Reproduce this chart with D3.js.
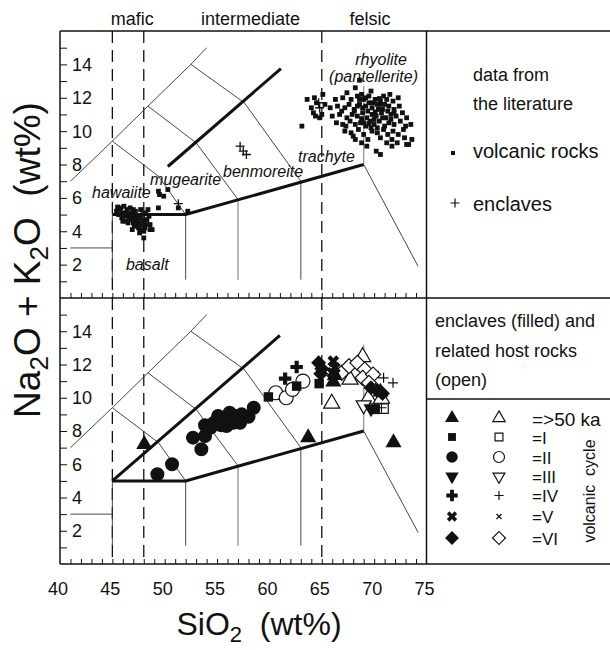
<!DOCTYPE html>
<html>
<head>
<meta charset="utf-8">
<script src="https://cdn.jsdelivr.net/npm/d3@7"></script>
<style>
  body { margin: 0; background: #fff; }
  svg { display: block; font-family: "Liberation Sans", Arial, Helvetica, sans-serif; }
</style>
</head>
<body>
<svg id="chart" width="610" height="650"></svg>
<script>
// ---------------- data ----------------
const siO2Ticks = [40, 45, 50, 55, 60, 65, 70, 75];
const alkaliTicks = [2, 4, 6, 8, 10, 12, 14];
const compositionNames = ["mafic", "intermediate", "felsic"];
const compositionDividers = [45, 48, 65];

// TAS field boundaries, [SiO2, Na2O+K2O]
const tasThin = [
  [[41, 7], [45, 9.4], [48.4, 11.5], [52.5, 14], [54, 15]],
  [[45, 9.4], [49.4, 7.3], [52, 5]],
  [[48.4, 11.5], [53, 9.3], [57, 5.9]],
  [[52.5, 14], [57.6, 11.7], [63, 7]],
  [[41, 3], [45, 3]],
  [[45, 5], [45, 1.1]],
  [[52, 5], [52, 1.1]],
  [[63, 7], [63, 1.1]],
  [[69, 8], [74.2, 1.9]]
];
const tasGrayTop = [[[57, 5.9], [57, 1.1]], [[69, 8], [69, 12.7]]];
const tasGrayBottom = [[[57, 5.9], [57, 1.1]], [[69, 8], [69, 13.2]]];
const subalkalineLimit = [[45, 5], [52, 5], [69, 8]];
const alkalineDivideTop = [[50.3, 7.88], [61.1, 13.75]];
const alkalineDivideBottom = [[45, 5], [61, 13.75]];

const fieldNames = ["hawaiite", "mugearite", "benmoreite", "trachyte", "basalt", "rhyolite", "(pantellerite)"];
const fieldAnchors = [[43.06, 6.0], [48.6, 6.77], [55.57, 7.25], [62.73, 8.17], [46.3, 1.68], [68.2, 13.98], [65.7, 12.96]];

// literature data: volcanic rocks
const litVolcanic = [
  // basalt / hawaiite
  [45.4, 5.2], [45.6, 5.0], [45.8, 5.4], [46.0, 5.1], [46.2, 4.9], [45.9, 4.8], [46.4, 5.3], [46.6, 5.0],
  [46.8, 4.7], [46.5, 4.5], [47.0, 4.9], [47.2, 5.2], [47.4, 4.6], [47.1, 4.3], [47.6, 4.8], [47.8, 4.4],
  [47.9, 5.0], [48.1, 4.2], [48.3, 4.7], [48.0, 4.0], [47.5, 4.2], [46.9, 4.1], [46.3, 4.6], [48.5, 4.9],
  [48.6, 4.4], [48.8, 4.1], [47.7, 5.3], [48.2, 5.1], [46.1, 5.5], [45.7, 5.3], [47.3, 4.9], [46.7, 5.4],
  [48.4, 5.3], [47.6, 3.9], [48.0, 3.6], [46.0, 4.6], [47.0, 4.5], [48.6, 4.1],
  [46.6, 4.8], [47.2, 4.7], [47.5, 4.5], [47.9, 4.7], [47.3, 4.4], [46.8, 5.1], [47.7, 4.1], [48.3, 4.4],
  [45.5, 5.45], [46.3, 5.1], [47.0, 5.3], [48.0, 4.45],
  // mugearite
  [49.4, 6.4], [49.5, 6.2], [50.3, 6.5], [49.9, 6.1], [51.3, 5.4], [52.2, 5.2], [49.4, 5.4],
  // trachyte / rhyolite
  [63.1, 10.3], [63.6, 11.9], [64.0, 11.4], [64.2, 11.1], [64.4, 10.9], [64.5, 11.7], [65.1, 12.2],
  [65.3, 11.6], [64.8, 10.8], [65.0, 11.0], [64.3, 12.0],
  [68.6, 13.05], [67.4, 12.3], [69.7, 12.4], [70.9, 12.1], [71.5, 12.2], [68.2, 12.6],
  [66.3, 11.9], [67.0, 12.0], [67.8, 11.9], [68.4, 12.1], [69.0, 11.9], [69.5, 12.1], [70.1, 11.9],
  [70.6, 11.8], [71.2, 11.9], [71.8, 11.8], [72.3, 12.0], [68.8, 12.2],
  [65.8, 11.4], [66.5, 11.5], [67.2, 11.4], [67.6, 11.6], [68.1, 11.3], [68.6, 11.6], [69.2, 11.5],
  [69.8, 11.4], [70.3, 11.6], [70.8, 11.3], [71.4, 11.5], [71.9, 11.3], [72.4, 11.5], [66.9, 11.2],
  [69.5, 11.7], [70.6, 11.6],
  [66.0, 10.9], [66.7, 11.0], [67.4, 10.8], [67.9, 11.0], [68.4, 10.9], [68.9, 11.1], [69.3, 10.8],
  [69.8, 11.0], [70.2, 10.9], [70.7, 11.1], [71.1, 10.8], [71.6, 11.0], [72.1, 10.9], [72.7, 11.1],
  [73.1, 10.8], [68.1, 11.2],
  [66.4, 10.5], [67.0, 10.4], [67.7, 10.6], [68.2, 10.4], [68.7, 10.5], [69.2, 10.3], [69.6, 10.6],
  [70.0, 10.4], [70.5, 10.6], [71.0, 10.3], [71.4, 10.5], [71.9, 10.4], [72.5, 10.6], [73.0, 10.3],
  [73.5, 10.4], [67.3, 10.3],
  [67.2, 10.0], [67.8, 9.9], [68.5, 10.1], [69.0, 9.8], [69.8, 10.0], [70.3, 9.9], [70.9, 10.1],
  [71.3, 9.8], [71.8, 10.0], [72.3, 9.8], [72.8, 10.1], [68.0, 9.7],
  [68.2, 9.5], [68.8, 9.3], [69.4, 9.5], [70.6, 9.6], [71.2, 9.3], [71.7, 9.5], [72.2, 9.3],
  [72.9, 9.6], [73.3, 9.2], [73.6, 9.5],
  [69.3, 9.1], [70.2, 8.8], [70.6, 8.6], [71.7, 9.1], [73.1, 9.2],
  // dense core of the rhyolite group
  [68.9, 11.4], [69.4, 11.2], [69.9, 11.7], [70.4, 11.3], [70.0, 10.7], [69.5, 10.45], [68.8, 10.75],
  [70.8, 10.8], [71.3, 11.2], [70.5, 11.95], [69.2, 12.0], [71.6, 10.7], [70.3, 10.2], [68.6, 11.9],
  [71.0, 11.6], [69.7, 10.2], [68.4, 11.5], [71.9, 11.1], [70.1, 11.15], [69.0, 10.5]
];
// literature data: enclaves
const litEnclaves = [[57.2, 9.1], [57.5, 8.8], [57.8, 8.6], [51.3, 5.65], [64.7, 11.7], [64.8, 11.4]];

// enclaves (filled) and host rocks (open) by volcanic cycle
const cycleLabels = ["=>50 ka", "=I", "=II", "=III", "=IV", "=V", "=VI"];
const cycleShapes = ["triangle", "square", "circle", "triangleDown", "plus", "cross", "diamond"];
const enclaves = [
  [[48.05, 7.2], [63.7, 7.6], [66.1, 10.95], [66.25, 11.35], [71.85, 7.3], [70.6, 10.35]],
  [[59.9, 10.05], [62.6, 10.7], [64.75, 10.85], [70.1, 9.3]],
  [[49.3, 5.4], [50.7, 6.0], [52.7, 7.6], [53.5, 6.9], [53.85, 7.7], [53.85, 8.35], [54.7, 8.5],
   [55.1, 8.9], [55.4, 8.35], [55.9, 8.3], [56.2, 9.1], [56.55, 8.5], [57.2, 8.5], [57.35, 9.0],
   [58.0, 8.85], [58.5, 9.4], [54.4, 8.2], [56.8, 8.9], [55.6, 8.7]],
  [[69.7, 9.35]],
  [[61.5, 11.15], [62.6, 11.85]],
  [[66.1, 12.2], [66.25, 11.8], [66.0, 11.5]],
  [[64.7, 12.1], [65.0, 11.75], [64.9, 11.45], [69.7, 10.6], [70.3, 10.45], [70.8, 10.25]]
];
const hostRocks = [
  [[65.95, 9.65], [68.9, 12.45], [67.7, 11.1], [69.45, 9.95], [70.7, 9.95]],
  [[70.5, 9.35], [70.9, 9.35]],
  [[60.6, 10.3], [61.6, 10.0], [62.2, 10.5], [63.2, 11.0]],
  [[69.0, 9.55]],
  [[70.9, 11.2], [71.8, 10.9], [70.7, 9.4]],
  [[70.1, 11.4]],
  [[66.9, 11.5], [67.6, 11.9], [68.4, 12.1], [69.1, 11.7], [68.9, 11.2], [69.9, 11.4], [69.5, 10.9]]
];

// ---------------- layout ----------------
const svg = d3.select("#chart");
const plotL = 60, plotR = 426.5, rightEdge = 610;
const topY0 = 31, midY = 298, botY = 564;
const x = d3.scaleLinear().domain([40, 75]).range([plotL, plotR]);
const yTop = d3.scaleLinear().domain([0, 16]).range([midY, topY0]);
const yBot = d3.scaleLinear().domain([0, 16]).range([botY, midY]);

function lineFor(y) { return d3.line().x(d => x(d[0])).y(d => y(d[1])); }

function drawPanel(g, y, grayLines, divide) {
  const ln = lineFor(y);
  // composition dividers
  g.selectAll(".div").data(compositionDividers).join("line")
    .attr("x1", d => x(d)).attr("x2", d => x(d))
    .attr("y1", y.range()[1]).attr("y2", y.range()[0])
    .attr("stroke", "#111").attr("stroke-width", 1.3).attr("stroke-dasharray", "12,7");
  g.selectAll(".thin").data(tasThin).join("path")
    .attr("d", ln).attr("fill", "none").attr("stroke", "#333").attr("stroke-width", 0.9);
  g.selectAll(".gray").data(grayLines).join("path").attr("class", "gray")
    .attr("d", ln).attr("fill", "none").attr("stroke", "#9a9a9a").attr("stroke-width", 1.4);
  g.append("path").attr("d", ln(subalkalineLimit)).attr("fill", "none")
    .attr("stroke", "#111").attr("stroke-width", 3);
  g.append("path").attr("d", ln(divide)).attr("fill", "none")
    .attr("stroke", "#111").attr("stroke-width", 3);

  // axes: ticks pointing into the plot, labels inside
  const yAxis = d3.axisRight(y).tickValues(d3.range(1, 16)).tickSize(7).tickFormat("");
  const ya = g.append("g").attr("transform", `translate(${plotL},0)`).call(yAxis);
  ya.select(".domain").remove();
  ya.selectAll("line").attr("stroke", "#111").attr("stroke-width", 1);
  g.selectAll(".ylab").data(alkaliTicks).join("text")
    .attr("x", plotL + 12).attr("y", d => y(d)).attr("dy", "0.36em")
    .attr("font-size", 18).attr("fill", "#111").text(d => d);

  const xAxis = d3.axisTop(x).tickValues(d3.range(41, 75)).tickSize(5).tickFormat("");
  const xa = g.append("g").attr("transform", `translate(0,${y.range()[0]})`).call(xAxis);
  xa.select(".domain").remove();
  xa.selectAll("line").attr("stroke", "#111").attr("stroke-width", 1);
}

const gTop = svg.append("g");
drawPanel(gTop, yTop, tasGrayTop, alkalineDivideTop);
const gBot = svg.append("g");
drawPanel(gBot, yBot, tasGrayBottom, alkalineDivideBottom);

// field names (italic)
gTop.selectAll(".field").data(fieldNames).join("text")
  .attr("x", (d, i) => x(fieldAnchors[i][0]))
  .attr("y", (d, i) => yTop(fieldAnchors[i][1]))
  .attr("font-size", 16).attr("font-style", "italic").attr("fill", "#111")
  .text(d => d);

// literature points
gTop.selectAll(".lit").data(litVolcanic).join("rect")
  .attr("x", d => x(d[0]) - 2.4).attr("y", d => yTop(d[1]) - 2.4)
  .attr("width", 4.8).attr("height", 4.8).attr("fill", "#111");
const plusPath = s => `M${-s},0H${s}M0,${-s}V${s}`;
gTop.selectAll(".litEnc").data(litEnclaves).join("path")
  .attr("transform", d => `translate(${x(d[0])},${yTop(d[1])})`)
  .attr("d", plusPath(4.5)).attr("stroke", "#111").attr("stroke-width", 1.3).attr("fill", "none");

// symbol helpers
function shapePath(kind, s) {
  switch (kind) {
    case "triangle": return d3.symbol(d3.symbolTriangle, s * s * 0.5)();
    case "triangleDown": return d3.symbol(d3.symbolTriangle, s * s * 0.5)();
    case "square": return d3.symbol(d3.symbolSquare, s * s * 0.62)();
    case "circle": return d3.symbol(d3.symbolCircle, s * s * 0.785)();
    case "diamond": return d3.symbol(d3.symbolSquare, s * s * 0.5)();
    case "plus": return d3.symbol(d3.symbolCross, s * s * 0.6)();
    case "cross": return d3.symbol(d3.symbolCross, s * s * 0.6)();
  }
}
function shapeRotation(kind) {
  return kind === "triangleDown" ? 180 : (kind === "diamond" || kind === "cross") ? 45 : 0;
}
function drawSymbols(g, pts, kind, filled, size, px, py) {
  const sel = g.selectAll(null).data(pts).join("path")
    .attr("transform", d => `translate(${px(d)},${py(d)}) rotate(${shapeRotation(kind)})`);
  if (!filled && (kind === "plus" || kind === "cross")) {
    sel.attr("d", plusPath(size * 0.42)).attr("fill", "none").attr("stroke", "#111").attr("stroke-width", 1.2);
  } else if (filled) {
    sel.attr("d", shapePath(kind, size)).attr("fill", "#111").attr("stroke", "none");
  } else {
    sel.attr("d", shapePath(kind, size)).attr("fill", "#fff").attr("stroke", "#111").attr("stroke-width", 1.2);
  }
}
const dataSize = { triangle: 15, square: 12, circle: 14, triangleDown: 14, plus: 12, cross: 12, diamond: 15 };
const px = d => x(d[0]), pyB = d => yBot(d[1]);
// host rocks first, enclaves on top
cycleShapes.forEach((k, i) => drawSymbols(gBot, hostRocks[i], k, false, dataSize[k], px, pyB));
cycleShapes.forEach((k, i) => drawSymbols(gBot, enclaves[i], k, true, dataSize[k], px, pyB));

// frame
const frame = svg.append("g").attr("stroke", "#111").attr("stroke-width", 1.5).attr("fill", "none");
frame.append("line").attr("x1", plotL).attr("x2", rightEdge).attr("y1", topY0).attr("y2", topY0);
frame.append("line").attr("x1", plotL).attr("x2", rightEdge).attr("y1", midY).attr("y2", midY);
frame.append("line").attr("x1", plotL).attr("x2", rightEdge).attr("y1", botY).attr("y2", botY);
frame.append("line").attr("x1", plotL).attr("x2", plotL).attr("y1", topY0).attr("y2", botY);
frame.append("line").attr("x1", plotR).attr("x2", plotR).attr("y1", topY0).attr("y2", botY);
frame.append("line").attr("x1", plotR).attr("x2", rightEdge).attr("y1", 399).attr("y2", 399);

// composition names above the frame
const compCenters = [46.9, 58.2, 69.6];
svg.selectAll(".comp").data(compositionNames).join("text")
  .attr("x", (d, i) => x(compCenters[i])).attr("y", 25)
  .attr("text-anchor", "middle").attr("font-size", 18).attr("fill", "#111").text(d => d);

// x tick labels and title
svg.selectAll(".xlab").data(siO2Ticks).join("text")
  .attr("x", d => x(d) - 2).attr("y", 595).attr("text-anchor", "middle")
  .attr("font-size", 18).attr("fill", "#111").text(d => d);
const xt = svg.append("text").attr("x", 259).attr("y", 635).attr("text-anchor", "middle")
  .attr("font-size", 32).attr("fill", "#111");
xt.append("tspan").text("SiO");
xt.append("tspan").attr("font-size", 22).attr("dy", 7).text("2");
xt.append("tspan").attr("dy", -7).text("\u00a0\u00a0(wt%)");

// y title
const yt = svg.append("text").attr("transform", "translate(40,260) rotate(-90)")
  .attr("text-anchor", "middle").attr("font-size", 37).attr("fill", "#111");
yt.append("tspan").text("Na");
yt.append("tspan").attr("font-size", 26).attr("dy", 8).text("2");
yt.append("tspan").attr("dy", -8).text("O + K");
yt.append("tspan").attr("font-size", 26).attr("dy", 8).text("2");
yt.append("tspan").attr("dy", -8).text("O\u00a0\u00a0(wt%)");

// legend, top right
const legTop = svg.append("g").attr("fill", "#111");
legTop.append("text").attr("x", 473).attr("y", 81).attr("font-size", 18).text("data from");
legTop.append("text").attr("x", 473).attr("y", 110).attr("font-size", 18).text("the literature");
legTop.append("rect").attr("x", 451).attr("y", 151).attr("width", 4).attr("height", 4);
legTop.append("text").attr("x", 473).attr("y", 158).attr("font-size", 20).text("volcanic rocks");
legTop.append("path").attr("transform", "translate(455,203)").attr("d", plusPath(4.5))
  .attr("stroke", "#111").attr("stroke-width", 1.2).attr("fill", "none");
legTop.append("text").attr("x", 473).attr("y", 211).attr("font-size", 20).text("enclaves");

// legend, bottom right
const legBot = svg.append("g").attr("fill", "#111");
["enclaves (filled) and", "related host rocks", "(open)"].forEach((t, i) =>
  legBot.append("text").attr("x", 435).attr("y", 327 + i * 29.5).attr("font-size", 18).text(t));
const rowY = [418, 437, 457, 476.5, 495.5, 516.5, 538];
const legSize = { triangle: 13, square: 10, circle: 11.5, triangleDown: 12.5, plus: 11, cross: 10.5, diamond: 14 };
const openSize = { triangle: 11.5, square: 10, circle: 11, triangleDown: 11, plus: 11, cross: 8.5, diamond: 13 };
cycleShapes.forEach((k, i) => {
  drawSymbols(legBot, [0], k, true, legSize[k], () => 452, () => rowY[i]);
  drawSymbols(legBot, [0], k, false, openSize[k], () => 499, () => rowY[i]);
});
legBot.selectAll(".cyc").data(cycleLabels).join("text")
  .attr("x", 532).attr("y", (d, i) => rowY[i] + (i === 0 ? 7.5 : 6.5))
  .attr("font-size", (d, i) => i === 0 ? 19 : 17).text(d => d);
legBot.append("text").attr("transform", "translate(595,491) rotate(-90)")
  .attr("text-anchor", "middle").attr("font-size", 16).text("volcanic\u00a0\u00a0cycle");
</script>
</body>
</html>
